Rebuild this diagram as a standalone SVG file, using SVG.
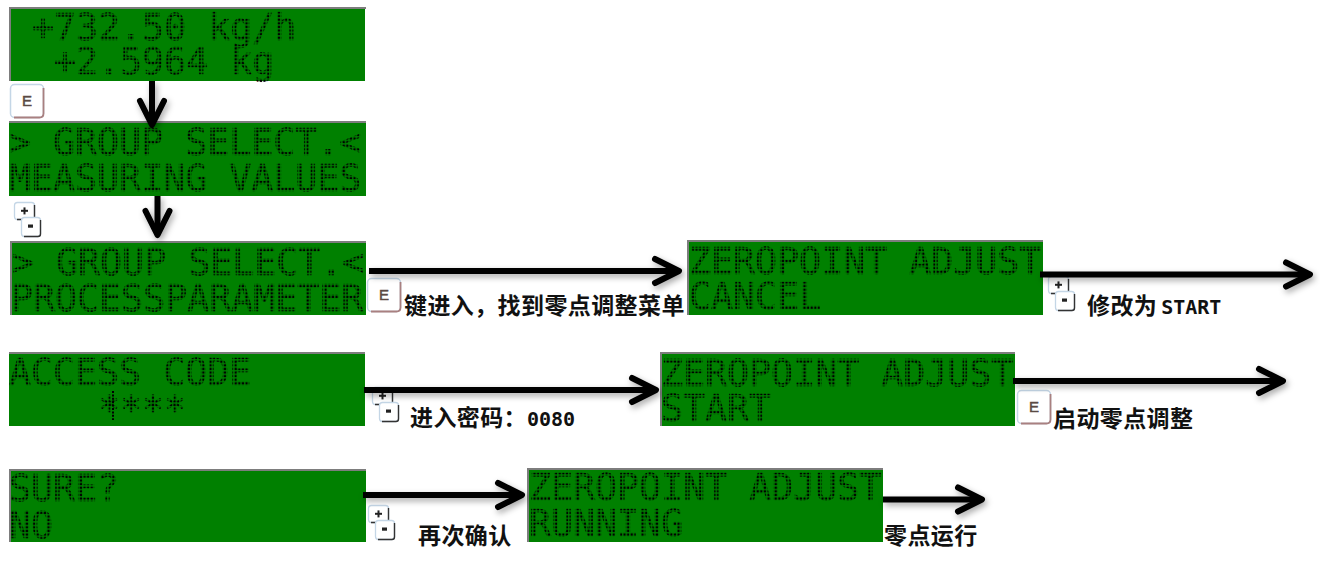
<svg xmlns="http://www.w3.org/2000/svg" xmlns:xlink="http://www.w3.org/1999/xlink" width="1320" height="561" viewBox="0 0 1320 561">
<style>
.lcd{fill:#008000}
.edge{fill:none;stroke:#7d7d7d;stroke-width:2}
.dot{font-family:"DejaVu Sans Mono","Liberation Mono",monospace;font-size:36.6px;fill:url(#dots);stroke:url(#dots);stroke-width:.6}
.lbl{font-family:"Noto Sans CJK SC","Liberation Sans",sans-serif;font-size:23px;font-weight:700;letter-spacing:.4px;fill:#111}
.lat{font-family:"DejaVu Sans Mono","Liberation Mono",monospace;font-size:20px;font-weight:700;letter-spacing:0}
.arr{fill:none;stroke:#000;stroke-width:6}
.head{fill:none;stroke:#000;stroke-width:6;stroke-linecap:round;stroke-linejoin:round}
.key{fill:#fff;stroke:#c4d6e6;stroke-width:1.5}
.keyb{fill:none;stroke:#a98080;stroke-width:1.8}
.keytxt{font-family:"Liberation Sans",Arial,sans-serif;font-size:15px;fill:#5a4a44;stroke:#5a4a44;stroke-width:.5}
</style>
<defs>
<pattern id="dots" patternUnits="userSpaceOnUse" width="3.6" height="3.6"><rect x="0.6" y="0.6" width="2.2" height="2.2" fill="#000"/></pattern>
<filter id="sh" x="-10%" y="-60%" width="120%" height="260%"><feDropShadow dx="2" dy="3" stdDeviation="3" flood-color="#000" flood-opacity=".35"/></filter>
<marker id="ah" markerUnits="userSpaceOnUse" markerWidth="34" markerHeight="34" refX="28" refY="17" orient="auto" overflow="visible"><path class="head" d="M4 5 L28 17 L4 29"/></marker>
<g id="pm">
<rect x="0.5" y="0.5" width="20" height="17" rx="3" fill="#fff" stroke="#c4d6e6" stroke-width="1.3"/>
<path d="M20.500 3V15Q20.500 17.500 18 17.500H3" fill="none" stroke="#333" stroke-width="1.4"/>
<rect x="7" y="7.800" width="7" height="2" fill="#222"/><rect x="9.500" y="5.400" width="2" height="7" fill="#222"/>
<rect x="7.500" y="15.500" width="19" height="19" rx="3" fill="#fff" stroke="#c4d6e6" stroke-width="1.3"/>
<path d="M26.500 18V32Q26.500 34.500 24 34.500H10" fill="none" stroke="#333" stroke-width="1.4"/>
<rect x="14" y="22.500" width="5" height="3.200" fill="#222"/>
</g>
<g id="ek">
<rect class="key" x="0.500" y="0.500" width="33" height="33" rx="4"/>
<path class="keyb" d="M33.500 4V29.500Q33.500 33.500 29.500 33.500H4"/>
<text class="keytxt" x="17" y="22" text-anchor="middle">E</text>
</g>
</defs>

<g id="panel-1"><rect class="lcd" x="9" y="8" width="356" height="73"/><path class="edge" d="M10 81V8H366"/><text class="dot" x="32" y="40">+732.50 kg/h</text><text class="dot" x="54" y="74">+2.5964 kg</text></g>
<g id="panel-2"><rect class="lcd" x="9" y="122" width="357" height="74"/><path class="edge" d="M9 122H366"/><text class="dot" x="9" y="155">&gt; GROUP SELECT.&lt;</text><text class="dot" x="9" y="191">MEASURING VALUES</text></g>
<g id="panel-3"><rect class="lcd" x="10" y="242" width="356" height="73"/><path class="edge" d="M11 315V242H366"/><text class="dot" x="12" y="275">&gt; GROUP SELECT.&lt;</text><text class="dot" x="11" y="311">PROCESSPARAMETER</text></g>
<g id="panel-4"><rect class="lcd" x="687" y="241" width="356" height="74"/><path class="edge" d="M688 315V241H1043"/><text class="dot" x="689" y="274">ZEROPOINT ADJUST</text><text class="dot" x="689" y="309">CANCEL</text></g>
<g id="panel-5"><rect class="lcd" x="9" y="353" width="356" height="73"/><path class="edge" d="M9 353H365"/><text class="dot" x="9" y="385">ACCESS CODE</text><text class="dot" x="98" y="423">****</text><path d="M113 391V420" fill="none" stroke="#000" stroke-width="2" stroke-dasharray="2 1.400"/></g>
<g id="panel-6"><rect class="lcd" x="660" y="353" width="355" height="73"/><path class="edge" d="M661 426V353H1015"/><text class="dot" x="661" y="386">ZEROPOINT ADJUST</text><text class="dot" x="661" y="421">START</text></g>
<g id="panel-7"><rect class="lcd" x="9" y="470" width="357" height="72"/><path class="edge" d="M10 542V470H366"/><text class="dot" x="9" y="501">SURE?</text><text class="dot" x="9" y="538">NO</text></g>
<g id="panel-8"><rect class="lcd" x="527" y="469" width="356" height="73"/><path class="edge" d="M528 542V469H883"/><text class="dot" x="529" y="500">ZEROPOINT ADJUST</text><text class="dot" x="529" y="536">RUNNING</text></g>

<g id="key-e-1"><use xlink:href="#ek" x="10" y="84"/></g>
<g id="key-e-2"><use xlink:href="#ek" x="367" y="278"/></g>
<g id="key-e-3"><use xlink:href="#ek" x="1017" y="390"/></g>
<g id="key-pm-1"><use xlink:href="#pm" x="14" y="202"/></g>
<g id="key-pm-2"><use xlink:href="#pm" x="1048" y="276"/></g>
<g id="key-pm-3"><use xlink:href="#pm" x="372" y="387"/></g>
<g id="key-pm-4"><use xlink:href="#pm" x="368" y="505"/></g>

<g id="connectors" filter="url(#sh)">
<path class="arr" d="M152 81V125" marker-end="url(#ah)"/>
<path class="arr" d="M157.500 196V235" marker-end="url(#ah)"/>
<path class="arr" d="M369 271H679" marker-end="url(#ah)"/>
<path class="arr" d="M1040 274.500H1310" marker-end="url(#ah)"/>
<path class="arr" d="M364 390H656" marker-end="url(#ah)"/>
<path class="arr" d="M1013 381H1283" marker-end="url(#ah)"/>
<path class="arr" d="M363 495H522" marker-end="url(#ah)"/>
<path class="arr" d="M883 499.500H982" marker-end="url(#ah)"/>
</g>

<g id="labels">
<text class="lbl" x="404" y="314">键进入，找到零点调整菜单</text>
<text class="lbl" x="1087" y="314">修改为<tspan class="lat" dx="4">START</tspan></text>
<text class="lbl" x="410" y="426">进入密码：<tspan class="lat">0080</tspan></text>
<text class="lbl" x="1053" y="427">启动零点调整</text>
<text class="lbl" x="418" y="544">再次确认</text>
<text class="lbl" x="884" y="544">零点运行</text>
</g>
</svg>
